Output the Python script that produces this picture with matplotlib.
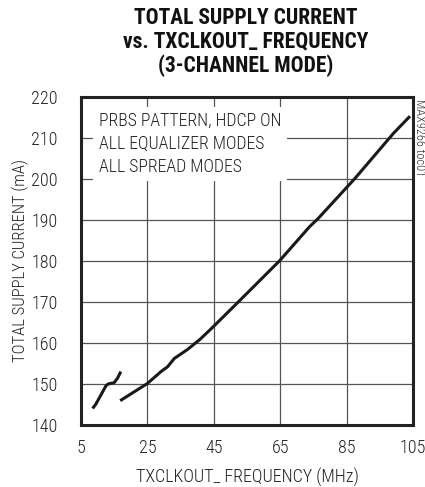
import matplotlib
matplotlib.use("Agg")
import matplotlib.pyplot as plt

# Data
seg1_x = [8.5, 9.5, 11.0, 12.5, 13.2, 15.0, 16.0, 17.0]
seg1_y = [144.1, 145.2, 147.4, 149.6, 150.1, 150.4, 151.5, 153.1]
seg2_x = [16.8, 25.0, 29.1, 31.1, 33.1, 37.1, 40.9, 44.4, 52.4, 64.9, 73.8, 76.5, 87.5, 99.1, 104.1]
seg2_y = [146.0, 150.2, 153.1, 154.3, 156.3, 158.5, 161.0, 163.7, 170.1, 180.2, 188.4, 190.5, 200.2, 211.2, 215.4]
x_ticks = [5, 25, 45, 65, 85, 105]
y_ticks = [140, 150, 160, 170, 180, 190, 200, 210, 220]

FONT = ["Roboto Condensed", "DejaVu Sans"]
plt.rcParams['font.family'] = FONT

fig = plt.figure(figsize=(4.25, 4.87), dpi=100)
W, H = 425, 487
ax = fig.add_axes([81 / W, 1 - 425.3 / H, (413 - 81) / W, (425.3 - 97.3) / H])

ax.plot(seg1_x, seg1_y, color="#1a1a1a", lw=2.2, solid_capstyle="butt", zorder=3)
ax.plot(seg2_x, seg2_y, color="#1a1a1a", lw=2.2, solid_capstyle="butt", zorder=3)

ax.set_xlim(5, 105)
ax.set_ylim(140, 220)
ax.set_xticks(x_ticks)
ax.set_yticks(y_ticks)
for lab in ax.get_xticklabels() + ax.get_yticklabels():
    lab.set_fontweight(300)
ax.tick_params(length=0, labelsize=13, colors="#222222")
ax.tick_params(axis="x", pad=10)
ax.tick_params(axis="y", pad=17)
ax.grid(True, color="#555555", lw=0.9)
ax.set_axisbelow(True)
for s in ax.spines.values():
    s.set_linewidth(2.2)
    s.set_color("#222222")

ax.set_xlabel("TXCLKOUT_ FREQUENCY (MHz)", fontsize=13, fontweight=300, color="#222222", labelpad=8)
ax.set_ylabel("TOTAL SUPPLY CURRENT (mA)", fontsize=12, fontweight=300, color="#222222",
              va="center")
ax.yaxis.set_label_coords((20 - 81) / 332, (425.3 - 260) / 328)

ax.text(0.054, 0.955,
        "PRBS PATTERN, HDCP ON\nALL EQUALIZER MODES\nALL SPREAD MODES",
        transform=ax.transAxes, fontsize=12.8, fontweight=300, color="#222222", va="top", ha="left",
        linespacing=1.35,
        bbox=dict(facecolor="white", edgecolor="none", pad=4), zorder=2)

fig.text(246 / W, 1 - 42 / H,
         "TOTAL SUPPLY CURRENT\nvs. TXCLKOUT_ FREQUENCY\n(3-CHANNEL MODE)",
         ha="center", va="center", fontsize=15.5, fontweight="heavy", color="#111111",
         linespacing=1.08)

fig.text(419 / W, 1 - 138 / H, "MAX9266 toc01", rotation=270, ha="center", va="center",
         fontsize=9, fontweight=300, color="#333333")

fig.savefig("out.png", dpi=100)
